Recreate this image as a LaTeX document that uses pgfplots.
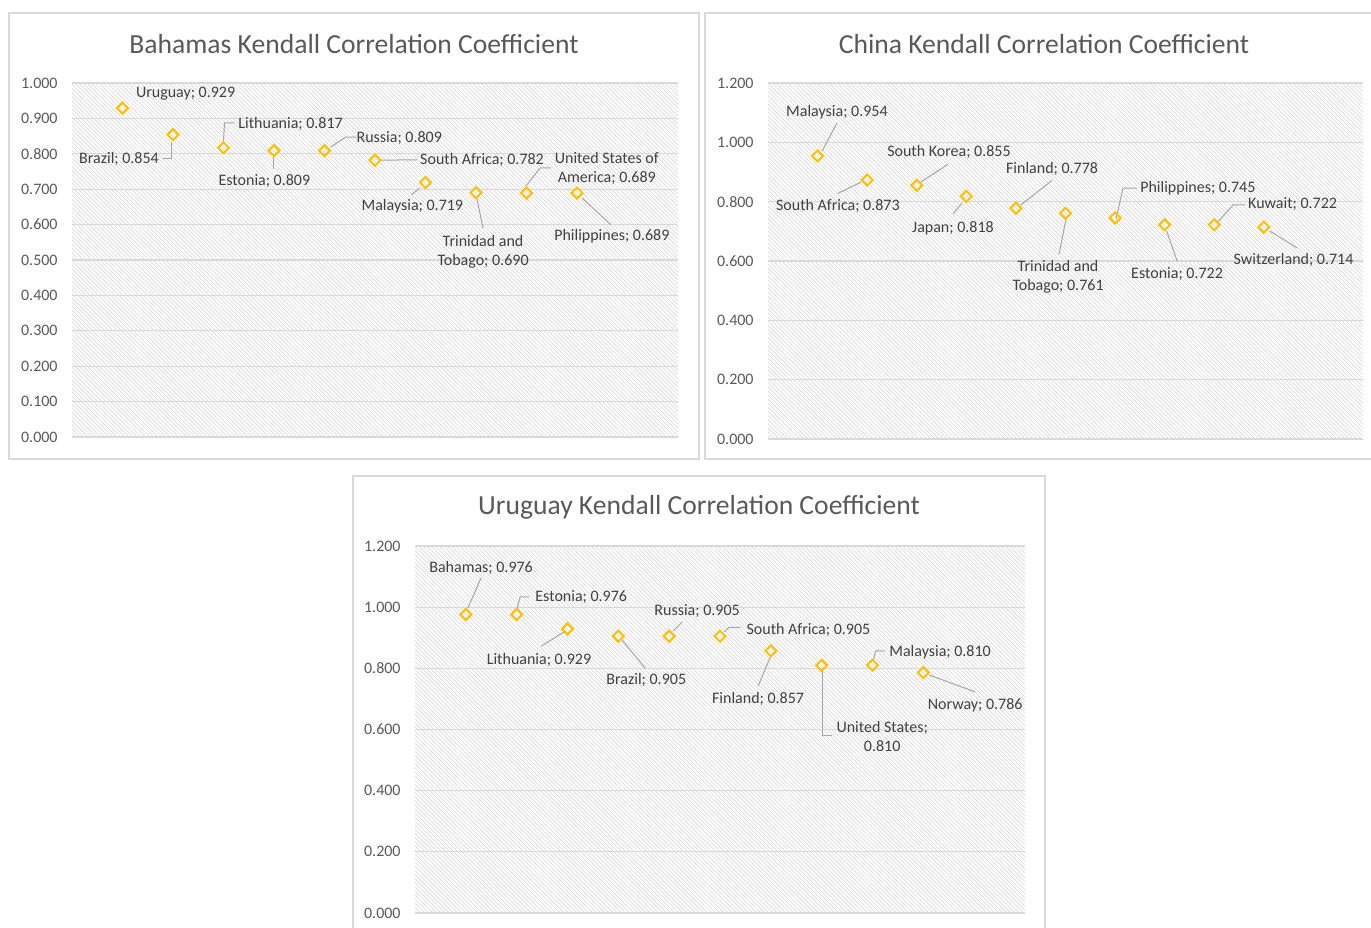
\documentclass[border=0pt]{standalone}
\usepackage{pgfplots}
\pgfplotsset{compat=1.18}
\usepackage{pgfplotstable}
\usepackage{fontspec}
\setmainfont{Carlito}
\usetikzlibrary{patterns.meta}
\definecolor{gold}{HTML}{FFC000}
\definecolor{hatch}{HTML}{DCDCDC}
\definecolor{gridc}{HTML}{D9D9D9}
\definecolor{framec}{HTML}{D9D9D9}
\definecolor{titlec}{HTML}{595959}
\definecolor{labc}{HTML}{404040}
\definecolor{leadc}{HTML}{A6A6A6}

\pgfplotstableread{
x y
1 0.929
2 0.854
3 0.817
4 0.809
5 0.809
6 0.782
7 0.719
8 0.690
9 0.689
10 0.689
}\bahamas
\pgfplotstableread{
x y
1 0.954
2 0.873
3 0.855
4 0.818
5 0.778
6 0.761
7 0.745
8 0.722
9 0.722
10 0.714
}\china
\pgfplotstableread{
x y
1 0.976
2 0.976
3 0.929
4 0.905
5 0.905
6 0.905
7 0.857
8 0.810
9 0.810
10 0.786
}\uruguay

\pgfplotsset{
  panel/.style={
    scale only axis,
    anchor=south west,
    xmin=0, xmax=12,
    ymin=0,
    enlargelimits=false,
    xtick=\empty,
    axis line style={draw=none},
    ymajorgrids,
    major grid style={draw=gridc, line width=0.6pt},
    major tick length=0pt,
    tick style={draw=none},
    yticklabel style={font=\fontsize{8}{9.6}\selectfont, text=titlec, anchor=east, inner sep=0pt, xshift=-7pt},
    /pgf/number format/.cd, fixed, fixed zerofill, precision=3, assume math mode=true,
    /pgfplots/.cd,
    axis background/.style={pattern={Lines[angle=-45,distance=1.45pt,line width=0.4pt]}, pattern color=hatch},
    clip=false,
  },
  dots/.style={only marks, mark=square, mark size=1.95pt,
    mark options={rotate=45, draw=gold, line width=1pt, fill=none}},
}
\tikzset{
  lab/.style={font=\fontsize{8}{9.5}\selectfont, text=labc, align=center, inner sep=0pt, yshift=-1pt},
  lead/.style={draw=leadc, line width=0.5pt},
  ttl/.style={font=\fontsize{13.8}{16}\selectfont, text=titlec},
}

\begin{document}
\begin{tikzpicture}
\useasboundingbox (0pt,0pt) rectangle (685.5pt,463.5pt);
\draw[framec, line width=0.6pt] (4.5pt,234pt) rectangle (349.5pt,457pt);
\draw[framec, line width=0.6pt] (352.5pt,234pt) rectangle (692.5pt,457pt);
\draw[framec, line width=0.6pt] (176.5pt,-10pt) rectangle (522.5pt,225.5pt);

% Panel 1
\begin{axis}[panel, at={(36pt,245pt)}, width=303pt, height=177pt,
  ymax=1, ytick={0,0.1,...,1.0}]
\addplot[dots] table[x=x,y=y] {\bahamas};
\node[lab] at (axis cs:2.25,0.975) {Uruguay; 0.929};
\node[lab] at (axis cs:0.93,0.791) {Brazil; 0.854};
\draw[lead] (axis cs:1.80,0.788) -- (axis cs:1.98,0.788) -- (axis cs:1.98,0.833);
\node[lab] at (axis cs:4.33,0.890) {Lithuania; 0.817};
\draw[lead] (axis cs:3.22,0.887) -- (axis cs:3.02,0.887) -- (axis cs:3.00,0.836);
\node[lab] at (axis cs:3.81,0.729) {Estonia; 0.809};
\draw[lead] (axis cs:3.99,0.791) -- (axis cs:3.99,0.757);
\node[lab] at (axis cs:6.48,0.850) {Russia; 0.809};
\draw[lead] (axis cs:5.63,0.847) -- (axis cs:5.42,0.847) -- (axis cs:5.12,0.819);
\node[lab] at (axis cs:8.12,0.788) {South Africa; 0.782};
\draw[lead] (axis cs:6.11,0.782) -- (axis cs:6.84,0.783);
\node[lab] at (axis cs:6.74,0.658) {Malaysia; 0.719};
\draw[lead] (axis cs:6.88,0.703) -- (axis cs:6.72,0.684);
\node[lab] at (axis cs:8.14,0.528) {Trinidad and\\Tobago; 0.690};
\draw[lead] (axis cs:8.02,0.672) -- (axis cs:8.14,0.590);
\node[lab] at (axis cs:10.59,0.763) {United States of\\America; 0.689};
\draw[lead] (axis cs:8.99,0.709) -- (axis cs:9.27,0.760) -- (axis cs:9.49,0.760);
\node[lab] at (axis cs:10.69,0.573) {Philippines; 0.689};
\draw[lead] (axis cs:10.10,0.675) -- (axis cs:10.67,0.600);
\end{axis}

% Panel 2
\begin{axis}[panel, at={(384pt,244pt)}, width=297.5pt, height=178pt,
  ymax=1.2, ytick={0,0.2,...,1.2}]
\addplot[dots] table[x=x,y=y] {\china};
\node[lab] at (axis cs:1.39,1.109) {Malaysia; 0.954};
\draw[lead] (axis cs:1.39,1.065) -- (axis cs:1.09,0.970);
\node[lab] at (axis cs:1.41,0.792) {South Africa; 0.873};
\draw[lead] (axis cs:1.41,0.828) -- (axis cs:1.88,0.866);
\node[lab] at (axis cs:3.65,0.974) {South Korea; 0.855};
\draw[lead] (axis cs:3.63,0.926) -- (axis cs:3.08,0.866);
\node[lab] at (axis cs:3.73,0.718) {Japan; 0.818};
\draw[lead] (axis cs:3.73,0.758) -- (axis cs:3.91,0.795);
\node[lab] at (axis cs:5.73,0.917) {Finland; 0.778};
\draw[lead] (axis cs:5.73,0.872) -- (axis cs:5.10,0.789);
\node[lab] at (axis cs:5.85,0.553) {Trinidad and\\Tobago; 0.761};
\draw[lead] (axis cs:6.01,0.741) -- (axis cs:5.87,0.623);
\node[lab] at (axis cs:8.67,0.853) {Philippines; 0.745};
\draw[lead] (axis cs:7.02,0.741) -- (axis cs:7.16,0.846) -- (axis cs:7.44,0.846);
\node[lab] at (axis cs:8.25,0.563) {Estonia; 0.722};
\draw[lead] (axis cs:8.04,0.701) -- (axis cs:8.25,0.600);
\node[lab] at (axis cs:10.58,0.799) {Kuwait; 0.722};
\draw[lead] (axis cs:9.07,0.731) -- (axis cs:9.38,0.789) -- (axis cs:9.62,0.789);
\node[lab] at (axis cs:10.60,0.610) {Switzerland; 0.714};
\draw[lead] (axis cs:10.12,0.701) -- (axis cs:10.67,0.644);
\end{axis}

% Panel 3
\begin{axis}[panel, at={(207.5pt,7pt)}, width=305pt, height=183.5pt,
  ymax=1.2, ytick={0,0.2,...,1.2}]
\addplot[dots] table[x=x,y=y] {\uruguay};
\node[lab] at (axis cs:1.30,1.135) {Bahamas; 0.976};
\draw[lead] (axis cs:1.30,1.096) -- (axis cs:1.04,0.997);
\node[lab] at (axis cs:3.27,1.040) {Estonia; 0.976};
\draw[lead] (axis cs:2.01,0.997) -- (axis cs:2.07,1.034) -- (axis cs:2.24,1.034);
\node[lab] at (axis cs:2.44,0.834) {Lithuania; 0.929};
\draw[lead] (axis cs:2.48,0.872) -- (axis cs:2.93,0.919);
\node[lab] at (axis cs:4.55,0.768) {Brazil; 0.905};
\draw[lead] (axis cs:4.07,0.893) -- (axis cs:4.53,0.800);
\node[lab] at (axis cs:5.55,0.994) {Russia; 0.905};
\draw[lead] (axis cs:5.26,0.952) -- (axis cs:5.08,0.922);
\node[lab] at (axis cs:7.74,0.932) {South Africa; 0.905};
\draw[lead] (axis cs:6.08,0.919) -- (axis cs:6.18,0.934) -- (axis cs:6.40,0.934);
\node[lab] at (axis cs:6.75,0.706) {Finland; 0.857};
\draw[lead] (axis cs:6.99,0.837) -- (axis cs:6.75,0.742);
\node[lab] at (axis cs:9.19,0.582) {United States;\\0.810};
\draw[lead] (axis cs:8.01,0.801) -- (axis cs:8.01,0.579) -- (axis cs:8.21,0.579);
\node[lab] at (axis cs:10.33,0.860) {Malaysia; 0.810};
\draw[lead] (axis cs:9.02,0.827) -- (axis cs:9.06,0.857) -- (axis cs:9.25,0.857);
\node[lab] at (axis cs:11.02,0.687) {Norway; 0.786};
\draw[lead] (axis cs:10.12,0.778) -- (axis cs:11.02,0.723);
\end{axis}

\node[ttl] at (177pt,441.5pt) {Bahamas Kendall Correlation Coefficient};
\node[ttl] at (522pt,441.5pt) {China Kendall Correlation Coefficient};
\node[ttl] at (349.5pt,210pt) {Uruguay Kendall Correlation Coefficient};
\end{tikzpicture}
\end{document}
